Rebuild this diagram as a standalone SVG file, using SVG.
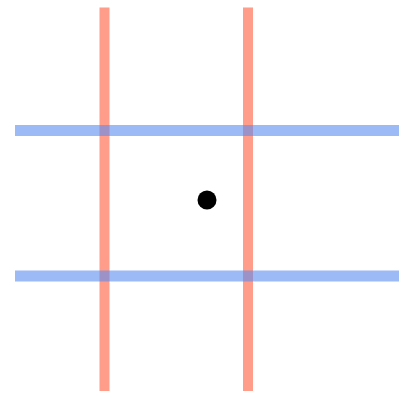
<svg xmlns="http://www.w3.org/2000/svg" width="402" height="394" viewBox="0 0 402 394">
<style>
.v{stroke:#ff5a3c;stroke-opacity:0.6;stroke-width:10}
.h{stroke:#5a8cf0;stroke-opacity:0.6;stroke-width:11}
</style>
<rect width="402" height="394" fill="#fff"/>
<g id="verticals">
<line class="v" x1="104.5" y1="7.5" x2="104.5" y2="391"/>
<line class="v" x1="248" y1="7.5" x2="248" y2="391"/>
</g>
<g id="horizontals">
<line class="h" x1="15" y1="130.5" x2="399" y2="130.5"/>
<line class="h" x1="15" y1="276" x2="399" y2="276"/>
</g>
<g id="dot"><circle cx="207" cy="200" r="9.5" fill="#000"/></g>
</svg>
